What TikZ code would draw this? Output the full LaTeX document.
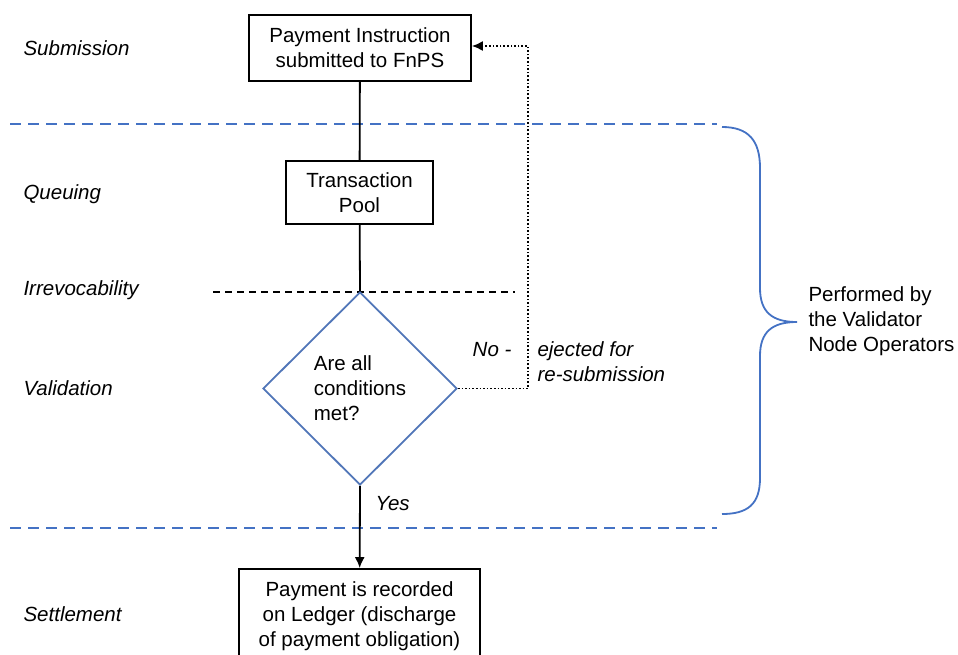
\documentclass[tikz,border=0pt]{standalone}
\usepackage{fontspec}
\setmainfont{Liberation Sans}
\usetikzlibrary{shapes.geometric,arrows.meta}
\definecolor{phaseblue}{HTML}{4472C4}
\definecolor{diamondblue}{HTML}{5176B8}

\begin{document}
\begin{tikzpicture}[%
      x=1pt, y=-1pt,
      font=\fontsize{20.5}{25}\selectfont,
      box/.style={draw, line width=1.8pt, align=center, inner sep=0pt},
      phase/.style={anchor=west, font=\fontsize{20.5}{25}\selectfont\itshape},
      ]
      \useasboundingbox (0,0) rectangle (958,654);

      % phase separators
      \draw [color=phaseblue, line width=2.2pt, dash pattern=on 11pt off 7pt] (10,124) -- (717,124);
      \draw [color=phaseblue, line width=2.2pt, dash pattern=on 11pt off 7pt] (10,528) -- (717,528);
      \draw [color=black, line width=1.5pt, dash pattern=on 7pt off 5pt] (213,292) -- (515,292);

      \node [box, minimum width=222pt, minimum height=66pt] (submit) at (360,48)
            {Payment Instruction\\submitted to FnPS};
      \node [box, minimum width=147pt, minimum height=63pt] (pool) at (359.5,192.5)
            {Transaction\\Pool};
      \node [draw=diamondblue, line width=1.8pt, shape=diamond, align=left, inner sep=0pt,
             minimum width=194pt, minimum height=193pt, fill=white] (check) at (360,388.5)
            {Are all\\conditions\\met?};
      \node [box, minimum width=241pt, minimum height=94pt] (ledger) at (359.5,616)
            {Payment is recorded\\on Ledger (discharge\\of payment obligation)};

      \coordinate (turn) at (528,46);

      \draw [line width=1.8pt] (submit) -- (pool);
      \draw [line width=1.8pt] (pool) -- (check.north);
      \draw [line width=1.8pt, -{Latex[length=11pt,width=10pt]}] (check.south) -- (ledger);
      \draw [line width=1.6pt, dotted, -{Latex[length=11pt,width=10pt]}]
            (check.east) -| (turn) -- (submit.east |- turn);

      \node [phase] (lsub) at (20,48) {Submission};
      \node [phase] (lqueue) at (20,194) {Queuing};
      \node [phase] (lirrev) at (20,290) {Irrevocability};
      \node [phase] (lvalid) at (20,388) {Validation};
      \node [phase] (lsettle) at (20,614) {Settlement};

      \node [phase] (lyes) at (372,504) {Yes};
      \node [phase, anchor=east] (lno) at (515,350) {No -};
      \node [phase, align=left] (leject) at (534,362) {ejected for\\re-submission};

      % validator brace
      \draw [color=phaseblue, line width=1.8pt]
            (722,127) .. controls (748,127) and (760,140) .. (760,168) -- (760,288)
            .. controls (760,312) and (772,322) .. (797,322)
            .. controls (772,322) and (760,332) .. (760,356) -- (760,478)
            .. controls (760,504) and (748,514) .. (722,514);
      \node [anchor=west, align=left] (operators) at (805,321)
            {Performed by\\the Validator\\Node Operators};
\end{tikzpicture}
\end{document}
